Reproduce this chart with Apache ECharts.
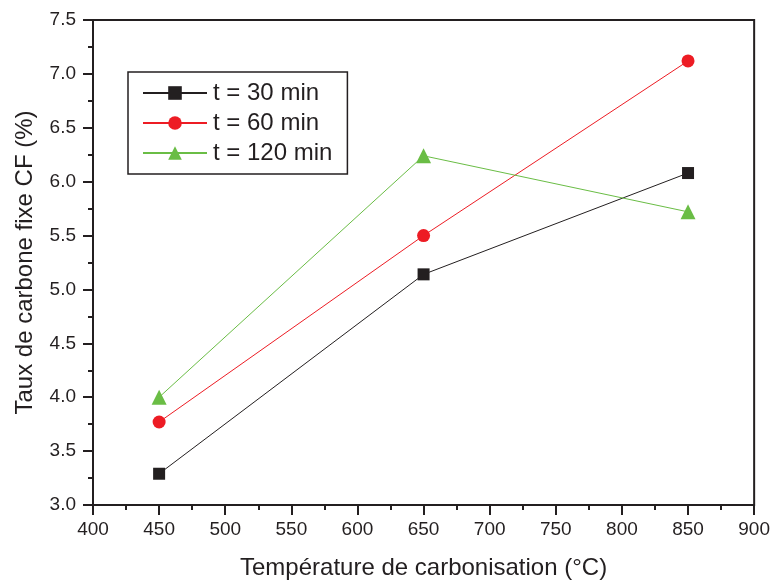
<!DOCTYPE html>
<html>
<head>
<meta charset="utf-8">
<script src="https://cdn.jsdelivr.net/npm/echarts@6/dist/echarts.min.js"></script>
<style>
  html, body { margin: 0; padding: 0; background: #fff; }
  #chart { width: 773px; height: 585px; }
</style>
</head>
<body>
<div id="chart"></div>
<script>
// Carbonisation temperature (°C) and fixed-carbon content (%) per residence time
const temperatures = [450, 650, 850];
const cf30 = [3.29, 5.14, 6.08];
const cf60 = [3.77, 5.50, 7.12];
const cf120 = [4.00, 6.24, 5.72];
const seriesNames = ['t = 30 min', 't = 60 min', 't = 120 min'];

const ink = '#231f20';
const font = '"Liberation Sans", Arial, sans-serif';

const pairs = vals => temperatures.map((t, i) => [t, vals[i]]);

const chart = echarts.init(document.getElementById('chart'), null, { renderer: 'canvas' });
chart.setOption({
  backgroundColor: '#fff',
  animation: false,
  grid: {
    left: 93, top: 20, width: 663, height: 487,
    show: true, borderColor: ink, borderWidth: 2, backgroundColor: 'transparent'
  },
  legend: {
    left: 128, top: 72, orient: 'vertical',
    data: seriesNames,
    itemWidth: 64, itemHeight: 17, itemGap: 6,
    padding: [9, 15, 9, 14],
    borderColor: ink, borderWidth: 1.5, borderRadius: 0,
    textStyle: { fontFamily: font, fontSize: 24, lineHeight: 24, color: ink, padding: [0, 0, 0, 1] }
  },
  xAxis: {
    type: 'value', min: 400, max: 900, interval: 50,
    name: 'Température de carbonisation (°C)',
    nameLocation: 'middle', nameGap: 51,
    nameTextStyle: { fontFamily: font, fontSize: 24, color: ink },
    axisLine: { show: true, lineStyle: { color: ink, width: 2 } },
    axisTick: { show: true, length: 10, lineStyle: { color: ink, width: 2 } },
    minorTick: { show: true, splitNumber: 2, length: 5, lineStyle: { color: ink, width: 2 } },
    axisLabel: { fontFamily: font, fontSize: 19, color: ink, margin: 15 },
    splitLine: { show: false }
  },
  yAxis: {
    type: 'value', min: 3.0, max: 7.5, interval: 0.5,
    name: 'Taux de carbone fixe CF (%)',
    nameLocation: 'middle', nameGap: 56, nameRotate: 90,
    nameTextStyle: { fontFamily: font, fontSize: 24, color: ink },
    axisLine: { show: true, lineStyle: { color: ink, width: 2 } },
    axisTick: { show: true, length: 10, lineStyle: { color: ink, width: 2 } },
    minorTick: { show: true, splitNumber: 2, length: 5, lineStyle: { color: ink, width: 2 } },
    axisLabel: {
      fontFamily: font, fontSize: 19, color: ink, margin: 17,
      formatter: v => v.toFixed(1)
    },
    splitLine: { show: false }
  },
  series: [
    {
      name: seriesNames[0], type: 'line', data: pairs(cf30),
      symbol: 'rect', symbolSize: 12,
      lineStyle: { color: ink, width: 1 },
      itemStyle: { color: ink }
    },
    {
      name: seriesNames[1], type: 'line', data: pairs(cf60),
      symbol: 'circle', symbolSize: 13,
      lineStyle: { color: '#ed1c24', width: 1 },
      itemStyle: { color: '#ed1c24' }
    },
    {
      name: seriesNames[2], type: 'line', data: pairs(cf120),
      symbol: 'triangle', symbolSize: 15,
      lineStyle: { color: '#6abd45', width: 1 },
      itemStyle: { color: '#6abd45' }
    }
  ]
});
</script>
</body>
</html>
